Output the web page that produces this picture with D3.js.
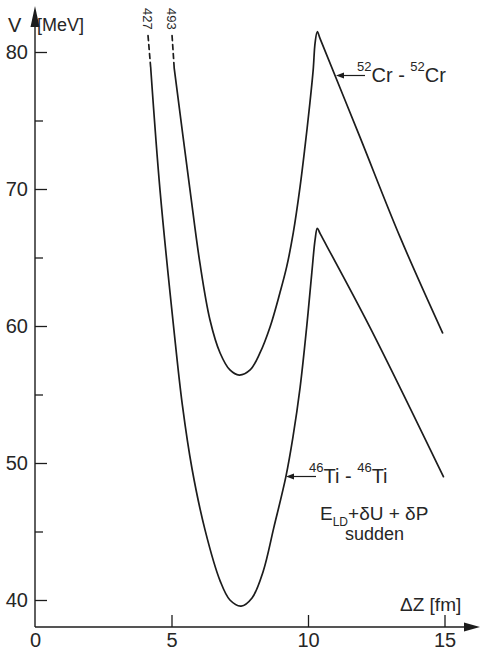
<!DOCTYPE html>
<html>
<head>
<meta charset="utf-8">
<script src="https://cdn.jsdelivr.net/npm/d3@7/dist/d3.min.js"></script>
<style>
  body { margin: 0; background: #fff; }
  svg text { font-family: "Liberation Sans", "DejaVu Sans", sans-serif; fill: #262626; }
</style>
</head>
<body>
<div id="chart"></div>
<script>
// Ti-Ti curve (E_LD + dU + dP, sudden)
const tiZ = [4.24, 4.58, 5.09, 5.40, 5.75, 6.23, 6.78, 7.14, 7.55, 7.95, 8.36, 8.75, 9.19, 9.45, 9.71, 9.95, 10.14, 10.26, 10.34, 10.45, 12.27, 14.96];
const tiV = [78.8, 69.9, 59.7, 54.2, 49.6, 45.1, 41.4, 40.0, 39.56, 40.15, 42.1, 45.3, 49.0, 51.9, 55.5, 59.9, 63.9, 66.3, 67.13, 66.72, 59.9, 49.0];
const tiDashZ = [4.14, 4.24];
const tiDashV = [81.2, 78.8];

// Cr-Cr curve
const crZ = [5.10, 5.68, 6.04, 6.41, 6.78, 7.14, 7.48, 7.88, 8.24, 8.61, 8.97, 9.22, 9.46, 9.71, 9.89, 10.07, 10.19, 10.26, 10.34, 10.45, 11.90, 13.37, 14.93];
const crV = [78.8, 69.9, 64.6, 60.44, 58.03, 56.79, 56.42, 56.79, 58.03, 59.93, 62.41, 64.33, 66.79, 70.17, 73.09, 76.28, 78.69, 80.66, 81.48, 80.94, 73.8, 66.5, 59.5];
const crDashZ = [5.02, 5.10];
const crDashV = [81.2, 78.8];

const xTicks = [0, 5, 10, 15];
const yTicks = [40, 50, 60, 70, 80];
const yMinorTicks = [45, 55, 65, 75];

const W = 480, H = 650;
const ink = "#1c1c1c";

const svg = d3.select("#chart").append("svg")
    .attr("width", W)
    .attr("height", H);

const x = d3.scaleLinear().domain([0, 15]).range([35, 444.5]);
const y = d3.scaleLinear().domain([40, 80]).range([600, 52]);
const axisY = 627;

// x axis
const gx = svg.append("g")
    .attr("transform", `translate(0,${axisY})`)
    .call(d3.axisBottom(x).tickValues(xTicks).tickSize(-12).tickPadding(6));
gx.select(".domain").remove();
gx.selectAll(".tick line").attr("stroke", ink).attr("stroke-width", 1.3);
gx.selectAll(".tick text").style("font-size", "20px").attr("fill", "#262626");
gx.selectAll(".tick").filter(d => d === 0).select("line").remove();

svg.append("line")
    .attr("x1", x(0)).attr("x2", 468)
    .attr("y1", axisY).attr("y2", axisY)
    .attr("stroke", ink).attr("stroke-width", 1.4);
svg.append("path")
    .attr("d", `M480,${axisY} L464,${axisY - 4.5} L464,${axisY + 4.5} Z`)
    .attr("fill", ink);

// y axis
const gy = svg.append("g")
    .attr("transform", `translate(${x(0)},0)`)
    .call(d3.axisLeft(y).tickValues(yTicks).tickSize(-12).tickPadding(7));
gy.select(".domain").remove();
gy.selectAll(".tick line").attr("stroke", ink).attr("stroke-width", 1.3);
gy.selectAll(".tick text").style("font-size", "20px").attr("fill", "#262626");

const gyMinor = svg.append("g")
    .attr("transform", `translate(${x(0)},0)`)
    .call(d3.axisLeft(y).tickValues(yMinorTicks).tickSize(-8).tickFormat(""));
gyMinor.select(".domain").remove();
gyMinor.selectAll(".tick line").attr("stroke", ink).attr("stroke-width", 1.3);

svg.append("line")
    .attr("x1", x(0)).attr("x2", x(0))
    .attr("y1", axisY).attr("y2", 22)
    .attr("stroke", ink).attr("stroke-width", 1.4);
svg.append("path")
    .attr("d", `M${x(0)},6 L${x(0) - 4.5},27 L${x(0) + 4.5},27 Z`)
    .attr("fill", ink);

// axis titles
svg.append("text").attr("x", 8).attr("y", 32).style("font-size", "20px").text("V");
svg.append("text").attr("x", 37).attr("y", 31).style("font-size", "18px").text("[MeV]");
svg.append("text").attr("x", 400).attr("y", 611).style("font-size", "19px").text("ΔZ [fm]");

// curves
const line = d3.line()
    .x(d => x(d[0]))
    .y(d => y(d[1]))
    .curve(d3.curveCatmullRom.alpha(0.5));

function drawCurve(zs, vs, dashed) {
    svg.append("path")
        .datum(zs.map((z, i) => [z, vs[i]]))
        .attr("d", line)
        .attr("fill", "none")
        .attr("stroke", ink)
        .attr("stroke-width", 1.7)
        .attr("stroke-linejoin", "round")
        .attr("stroke-linecap", "round")
        .attr("stroke-dasharray", dashed ? "5,4" : null);
}
drawCurve(tiZ, tiV, false);
drawCurve(crZ, crV, false);
drawCurve(tiDashZ, tiDashV, true);
drawCurve(crDashZ, crDashV, true);

// labels on the dashed ends
svg.append("text")
    .attr("transform", `translate(${x(4.14) - 5},8) rotate(90)`)
    .style("font-size", "13px").text("427");
svg.append("text")
    .attr("transform", `translate(${x(5.02) - 5},8) rotate(90)`)
    .style("font-size", "13px").text("493");

// pointer labels
function pointer(x1, x2, yy) {
    svg.append("line")
        .attr("x1", x1 + 5).attr("x2", x2)
        .attr("y1", yy).attr("y2", yy)
        .attr("stroke", ink).attr("stroke-width", 1.2);
    svg.append("path")
        .attr("d", `M${x1},${yy} L${x1 + 8},${yy - 3} L${x1 + 8},${yy + 3} Z`)
        .attr("fill", ink);
}

pointer(336, 365, 75.5);
const crLabel = svg.append("text").attr("x", 357).attr("y", 82).style("font-size", "20px");
crLabel.append("tspan").style("font-size", "13px").attr("dy", -11).text("52");
crLabel.append("tspan").attr("dy", 11).text("Cr - ");
crLabel.append("tspan").style("font-size", "13px").attr("dy", -11).text("52");
crLabel.append("tspan").attr("dy", 11).text("Cr");

pointer(286, 316, 476.5);
const tiLabel = svg.append("text").attr("x", 309).attr("y", 483).style("font-size", "20px");
tiLabel.append("tspan").style("font-size", "13px").attr("dy", -11).text("46");
tiLabel.append("tspan").attr("dy", 11).text("Ti - ");
tiLabel.append("tspan").style("font-size", "13px").attr("dy", -11).text("46");
tiLabel.append("tspan").attr("dy", 11).text("Ti");

const eLabel = svg.append("text").attr("x", 320).attr("y", 520).style("font-size", "19px");
eLabel.append("tspan").text("E");
eLabel.append("tspan").style("font-size", "12px").attr("dy", 6).text("LD");
eLabel.append("tspan").attr("dy", -6).text("+δU + δP");

svg.append("text").attr("x", 345).attr("y", 540).style("font-size", "18px").text("sudden");
</script>
</body>
</html>
